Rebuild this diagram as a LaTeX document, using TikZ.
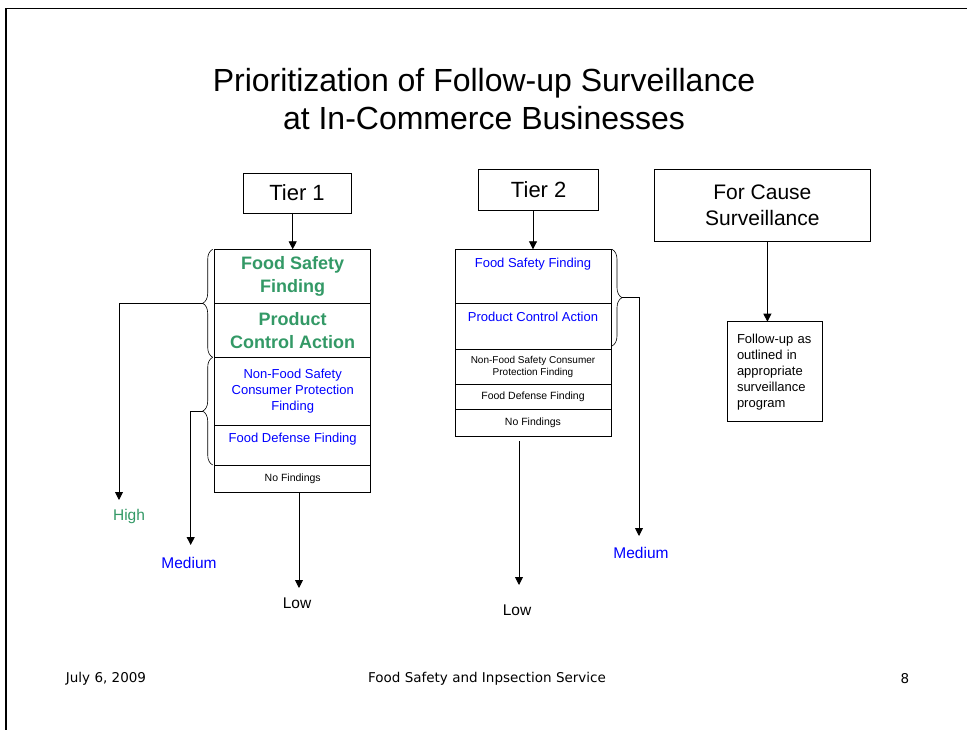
\documentclass[tikz,border=0pt]{standalone}
\usepackage{fontspec}
\setmainfont{Liberation Sans}
\newfontfamily\footfont{DejaVu Sans}
\usepackage{tikz}
\usetikzlibrary{arrows.meta, calc, positioning, decorations.pathreplacing}
\definecolor{hgreen}{RGB}{51,153,102}

\begin{document}
\begin{tikzpicture}[x=1pt, y=-1pt,
  box/.style={draw, line width=0.8pt, inner sep=0pt, outer sep=0pt, align=center},
  row/.style={box, minimum width=156pt},
  arr/.style={line width=0.9pt, -{Triangle[length=8pt,width=8pt]}},
  brc/.style={decorate, decoration={brace, amplitude=10pt}, line width=0.6pt},
  lvl/.style={font=\fontsize{15.5}{18}\selectfont},
  small/.style={font=\fontsize{10.5}{12}\selectfont},
  mid/.style={font=\fontsize{13}{16}\selectfont},
  big/.style={font={\bfseries\fontsize{18}{22.5}\selectfont}, text=hgreen},
  foot/.style={font=\footfont\fontsize{13.5}{16}\selectfont}]
\useasboundingbox (0,0) rectangle (967,730);
\draw[line width=1.6pt] (6,730) -- (6,8.7) -- (967,8.7);
\path
(484,99) node[align=center, font=\fontsize{32}{38}\selectfont] (title) {Prioritization of Follow-up Surveillance\\at In-Commerce Businesses};
\path
(297,193) node[box, minimum width=108pt, minimum height=40pt, font=\fontsize{22}{26}\selectfont] (t1) {Tier 1};
\path
(538.7,189.7) node[box, minimum width=120pt, minimum height=40.7pt, font=\fontsize{22}{26}\selectfont] (t2) {Tier 2};
\path
(762.4,205.5) node[box, minimum width=215.3pt, minimum height=72.4pt, font=\fontsize{21}{26}\selectfont] (fc) {For Cause\\Surveillance};
\path
(775,371.7) node[box, mid, align=left, text width=76pt, inner xsep=9.7pt, minimum height=100pt] (fu) {Follow-up as\\outlined in\\appropriate\\surveillance\\program};

\node[row, big, anchor=north, minimum height=54.4pt] (a1) at (292.7,249.3) {Food Safety\\Finding};
\node[row, big, below=0pt of a1, minimum height=53.6pt] (a2) {Product\\Control Action};
\node[row, mid, text=blue, below=0pt of a2, minimum height=68pt] (a3) {Non-Food Safety\\Consumer Protection\\Finding};
\node[row, below=0pt of a3, minimum height=39.7pt] (a4) {};
\node[row, small, below=0pt of a4, minimum height=27.3pt] (a5) {No Findings};
\node[mid, text=blue] (a4t) at ($(a4.north)+(0,13.7)$) {Food Defense Finding};

\node[row, anchor=north, minimum height=54.4pt] (b1) at (533,249.3) {};
\node[row, below=0pt of b1, minimum height=45.3pt] (b2) {};
\node[row, below=0pt of b2, minimum height=35.3pt, font=\fontsize{10}{12}\selectfont] (b3) {Non-Food Safety Consumer\\Protection Finding};
\node[row, small, below=0pt of b3, minimum height=25pt] (b4) {Food Defense Finding};
\node[row, small, below=0pt of b4, minimum height=27pt] (b5) {No Findings};
\node[mid, text=blue] (b1t) at ($(b1.north)+(0,15)$) {Food Safety Finding};
\node[mid, text=blue] (b2t) at ($(b2.north)+(0,13)$) {Product Control Action};

\draw[brc] ($(a2.south west)+(-2,0)$) -- ($(a1.north west)+(-2,0)$);
\draw[brc] ($(a4.south west)+(-2,0)$) -- ($(a3.north west)+(-2,0)$);
\draw[brc] ($(b1.north east)+(1,0)$) -- ($(b2.south east)+(1,-3)$);
\coordinate (k1) at ($(a1.south west)+(-12,0)$);
\coordinate (k2) at ($(a3.north west)!0.5!(a4.south west)+(-12,0)$);
\coordinate (k3) at ($(b1.north east)!0.5!(b2.south east)+(11,-1.5)$);

\coordinate (hiend) at (119,500);
\coordinate (me1end) at (190.7,545);
\coordinate (lo1end) at (299,588);
\coordinate (lo2end) at (519,585);
\coordinate (me2end) at (639,536);
\draw[arr] (k1) -| (hiend);
\draw[arr] (k2) -| (me1end);
\draw[arr] (a5.south -| lo1end) -- (lo1end);
\draw[arr, shorten <=5pt] (b5.south -| lo2end) -- (lo2end);
\draw[arr] (k3) -| (me2end);
\draw[arr] (t1.south -| a1.north) -- (a1.north);
\draw[arr] (t2.south -| b1.north) -- (b1.north);
\draw[arr] ([xshift=5pt]fc.south) -- ([xshift=5pt]fc.south |- fu.north);

\node[lvl, text=hgreen] (hi) at (129,516) {High};
\node[lvl, text=blue] (me1) at (189,563) {Medium};
\node[lvl] (lo1) at (297,603) {Low};
\node[lvl] (lo2) at (517,610) {Low};
\node[lvl, text=blue] (me2) at (641,553) {Medium};

\node[foot] (date) at (106,679) {July 6, 2009};
\node[foot] (org) at (487,679) {Food Safety and Inpsection Service};
\node[foot] (pg) at (905,679) {8};
\end{tikzpicture}
\end{document}
